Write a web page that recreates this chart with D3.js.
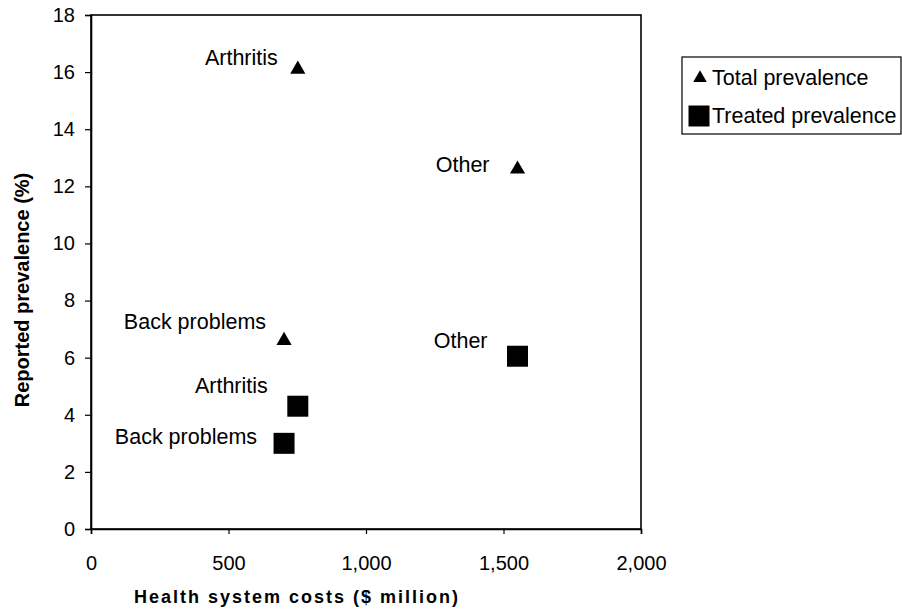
<!DOCTYPE html>
<html>
<head>
<meta charset="utf-8">
<script src="https://cdn.jsdelivr.net/npm/d3@7"></script>
<style>
  html, body { margin: 0; padding: 0; background: #fff; }
  svg { display: block; font-family: "Liberation Sans", Arial, sans-serif; }
</style>
</head>
<body>
<svg id="chart" width="902" height="614"></svg>
<script>
// Conditions plotted against health system costs
const conditions = ["Arthritis", "Back problems", "Other"];
const costs = [752, 702, 1551];              // $ million
const totalPrevalence = [16.1, 6.6, 12.6];   // %
const treatedPrevalence = [4.3, 3.0, 6.05];  // %
const xTicks = [0, 500, 1000, 1500, 2000];
const yTicks = [0, 2, 4, 6, 8, 10, 12, 14, 16, 18];
const seriesNames = ["Total prevalence", "Treated prevalence"];

// Label placement (right end of text relative to the marker, baseline offset)
const totalLabelOffsets = [[-20, -4], [-18, -12], [-28, 3]];
const treatedLabelOffsets = [[-30, -13], [-27, 1], [-30, -8]];

const svg = d3.select("#chart");
const margin = { left: 91, top: 15, right: 641, bottom: 529 };

const x = d3.scaleLinear().domain([0, 2000]).range([margin.left, margin.right]);
const y = d3.scaleLinear().domain([0, 18]).range([margin.bottom, margin.top]);

// Plot frame
svg.append("rect")
  .attr("x", margin.left).attr("y", margin.top)
  .attr("width", margin.right - margin.left)
  .attr("height", margin.bottom - margin.top)
  .attr("fill", "none").attr("stroke", "#000").attr("stroke-width", 1.6);

// Axes
const fmt = d3.format(",");
const xAxis = svg.append("g")
  .attr("transform", `translate(0,${margin.bottom})`)
  .call(d3.axisBottom(x).tickValues(xTicks).tickFormat(fmt).tickSize(5).tickPadding(22));
const yAxis = svg.append("g")
  .attr("transform", `translate(${margin.left},0)`)
  .call(d3.axisLeft(y).tickValues(yTicks).tickSize(6).tickPadding(10));

[xAxis, yAxis].forEach(g => {
  g.select(".domain").attr("stroke", "#000").attr("stroke-width", 1.6);
  g.selectAll(".tick line").attr("stroke", "#000").attr("stroke-width", 1.2);
  g.selectAll(".tick text")
    .attr("fill", "#000")
    .style("font-family", '"Liberation Sans", Arial, sans-serif')
    .style("font-size", "20px");
});

// Axis titles
svg.append("text")
  .attr("x", 297)
  .attr("y", 603)
  .attr("text-anchor", "middle")
  .style("font-size", "18px").style("font-weight", "bold")
  .style("letter-spacing", "2px")
  .text("Health system costs ($ million)");

svg.append("text")
  .attr("transform", `translate(29,290) rotate(-90)`)
  .attr("text-anchor", "middle")
  .style("font-size", "20px").style("font-weight", "bold")
  .text("Reported prevalence (%)");

const triangle = d3.symbol().type(d3.symbolTriangle).size(100);
const square = d3.symbol().type(d3.symbolSquare).size(441);

// Total prevalence markers
svg.append("g").selectAll("path")
  .data(conditions)
  .join("path")
  .attr("d", triangle)
  .attr("transform", (d, i) => `translate(${x(costs[i])},${y(totalPrevalence[i])})`)
  .attr("fill", "#000");

// Treated prevalence markers
svg.append("g").selectAll("path")
  .data(conditions)
  .join("path")
  .attr("d", square)
  .attr("transform", (d, i) => `translate(${x(costs[i])},${y(treatedPrevalence[i])})`)
  .attr("fill", "#000");

// Point labels
const labelSize = "21.5px";
svg.append("g").selectAll("text")
  .data(conditions)
  .join("text")
  .attr("x", (d, i) => x(costs[i]) + totalLabelOffsets[i][0])
  .attr("y", (d, i) => y(totalPrevalence[i]) + totalLabelOffsets[i][1])
  .attr("text-anchor", "end")
  .style("font-size", labelSize)
  .text(d => d);

svg.append("g").selectAll("text")
  .data(conditions)
  .join("text")
  .attr("x", (d, i) => x(costs[i]) + treatedLabelOffsets[i][0])
  .attr("y", (d, i) => y(treatedPrevalence[i]) + treatedLabelOffsets[i][1])
  .attr("text-anchor", "end")
  .style("font-size", labelSize)
  .text(d => d);

// Legend
const legend = svg.append("g").attr("transform", "translate(682,57)");
legend.append("rect")
  .attr("x", 0).attr("y", 0).attr("width", 219).attr("height", 77)
  .attr("fill", "#fff").attr("stroke", "#000").attr("stroke-width", 1.2);
legend.append("path")
  .attr("d", d3.symbol().type(d3.symbolTriangle).size(80))
  .attr("transform", "translate(18,21)")
  .attr("fill", "#000");
legend.append("path")
  .attr("d", square)
  .attr("transform", "translate(17,59)")
  .attr("fill", "#000");
legend.selectAll("text.lbl")
  .data(seriesNames)
  .join("text")
  .attr("class", "lbl")
  .attr("x", 30)
  .attr("y", (d, i) => 28 + i * 38)
  .style("font-size", "21.5px")
  .text(d => d);
</script>
</body>
</html>
